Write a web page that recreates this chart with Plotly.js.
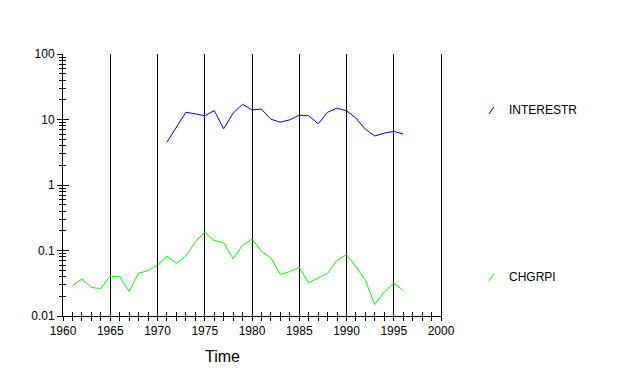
<!DOCTYPE html>
<html>
<head>
<meta charset="utf-8">
<script src="https://cdn.plot.ly/plotly-3.0.1.min.js"></script>
<style>html,body{margin:0;padding:0;background:#fff;}#chart{width:638px;height:378px;}</style>
</head>
<body>
<div id="chart"></div>
<script>
const yearsInterest = [1971,1972,1973,1974,1975,1976,1977,1978,1979,1980,1981,1982,1983,1984,1985,1986,1987,1988,1989,1990,1991,1992,1993,1994,1995,1996];
const interestr = [4.5,7.6,12.9,12.2,11.4,13.7,7.2,12.5,17.1,14.0,14.4,10.1,9.1,9.9,11.6,11.4,8.6,12.9,14.9,13.6,10.5,7.1,5.6,6.2,6.6,6.0];
const yearsChg = [1961,1962,1963,1964,1965,1966,1967,1968,1969,1970,1971,1972,1973,1974,1975,1976,1977,1978,1979,1980,1981,1982,1983,1984,1985,1986,1987,1988,1989,1990,1991,1992,1993,1994,1995,1996];
const chgrpi = [0.029,0.0367,0.0273,0.0261,0.0407,0.0398,0.0237,0.0452,0.0492,0.060,0.0824,0.0637,0.0824,0.135,0.190,0.142,0.132,0.075,0.120,0.149,0.097,0.077,0.0432,0.0475,0.0553,0.0322,0.038,0.0448,0.0708,0.0865,0.0566,0.035,0.0149,0.0232,0.0318,0.0246];
const xTickVals = [1960,1965,1970,1975,1980,1985,1990,1995,2000];
const xTickText = ['1960','1965','1970','1975','1980','1985','1990','1995','2000'];
const yTickVals = [0.01,0.1,1,10,100];
const yTickText = ['0.01','0.1','1','10','100'];
const seriesNames = ['INTERESTR','CHGRPI'];

const font = {family:'Liberation Sans, Arial, sans-serif', size:12, color:'#000'};
const traces = [
  {x:yearsInterest, y:interestr, type:'scatter', mode:'lines', name:seriesNames[0], line:{color:'#0000ff', width:1}, showlegend:false},
  {x:yearsChg, y:chgrpi, type:'scatter', mode:'lines', name:seriesNames[1], line:{color:'#00ff00', width:1}, showlegend:false},
  {x:[yearsChg[0]], y:[chgrpi[0]], xaxis:'x2', yaxis:'y2', type:'scatter', mode:'none', hoverinfo:'skip', showlegend:false}
];
const layout = {
  width:638, height:378,
  margin:{l:63, r:197, t:54, b:62},
  paper_bgcolor:'#fff', plot_bgcolor:'#fff',
  font:font,
  xaxis:{range:[1960,2000], tickmode:'array', tickvals:xTickVals, ticktext:xTickText,
    ticks:'outside', ticklen:4, tickcolor:'#000', showline:true, linecolor:'#000', linewidth:1,
    showgrid:true, gridcolor:'#000', gridwidth:1, zeroline:false, tickfont:font,
    minor:{dtick:1, ticks:'outside', ticklen:4, tickcolor:'#000', showgrid:false}},
  yaxis:{type:'log', range:[-2,2], tickmode:'array', tickvals:yTickVals, ticktext:yTickText,
    ticks:'outside', ticklen:5, tickcolor:'#000', showline:true, mirror:true, linecolor:'#000', linewidth:1,
    showgrid:false, zeroline:false, tickfont:font,
    minor:{dtick:'D1', ticks:'outside', ticklen:3, tickcolor:'#000', showgrid:false}},
  xaxis2:{range:[1960,2000], overlaying:'x', anchor:'y', dtick:1, tick0:1960, ticks:'inside', ticklen:4, tickcolor:'#000',
    showticklabels:false, showgrid:false, zeroline:false, showline:false},
  yaxis2:{type:'log', range:[-2,2], overlaying:'y', anchor:'x', side:'left', tickmode:'array', tickvals:yTickVals,
    ticks:'inside', ticklen:6, tickcolor:'#000', showticklabels:false, showgrid:false, zeroline:false, showline:false,
    minor:{dtick:'D1', ticks:'inside', ticklen:3, tickcolor:'#000', showgrid:false}},
  shapes:[
    {type:'line', xref:'paper', yref:'paper', x0:1.127, y0:0.771, x1:1.140, y1:0.798, line:{color:'#0000ff', width:1}},
    {type:'line', xref:'paper', yref:'paper', x0:1.127, y0:0.134, x1:1.140, y1:0.161, line:{color:'#00ff00', width:1}}
  ],
  annotations:[
    {text:seriesNames[0], xref:'paper', yref:'paper', x:1.1746, y:0.786, xanchor:'left', yanchor:'middle', showarrow:false, font:font},
    {text:seriesNames[1], xref:'paper', yref:'paper', x:1.1746, y:0.149, xanchor:'left', yanchor:'middle', showarrow:false, font:font},
    {text:'Time', xref:'paper', yref:'paper', x:0.423, y:-0.156, xanchor:'center', yanchor:'middle', showarrow:false, font:{family:font.family, size:16, color:'#000'}}
  ]
};
Plotly.newPlot('chart', traces, layout, {displayModeBar:false, staticPlot:true});
</script>
</body>
</html>
